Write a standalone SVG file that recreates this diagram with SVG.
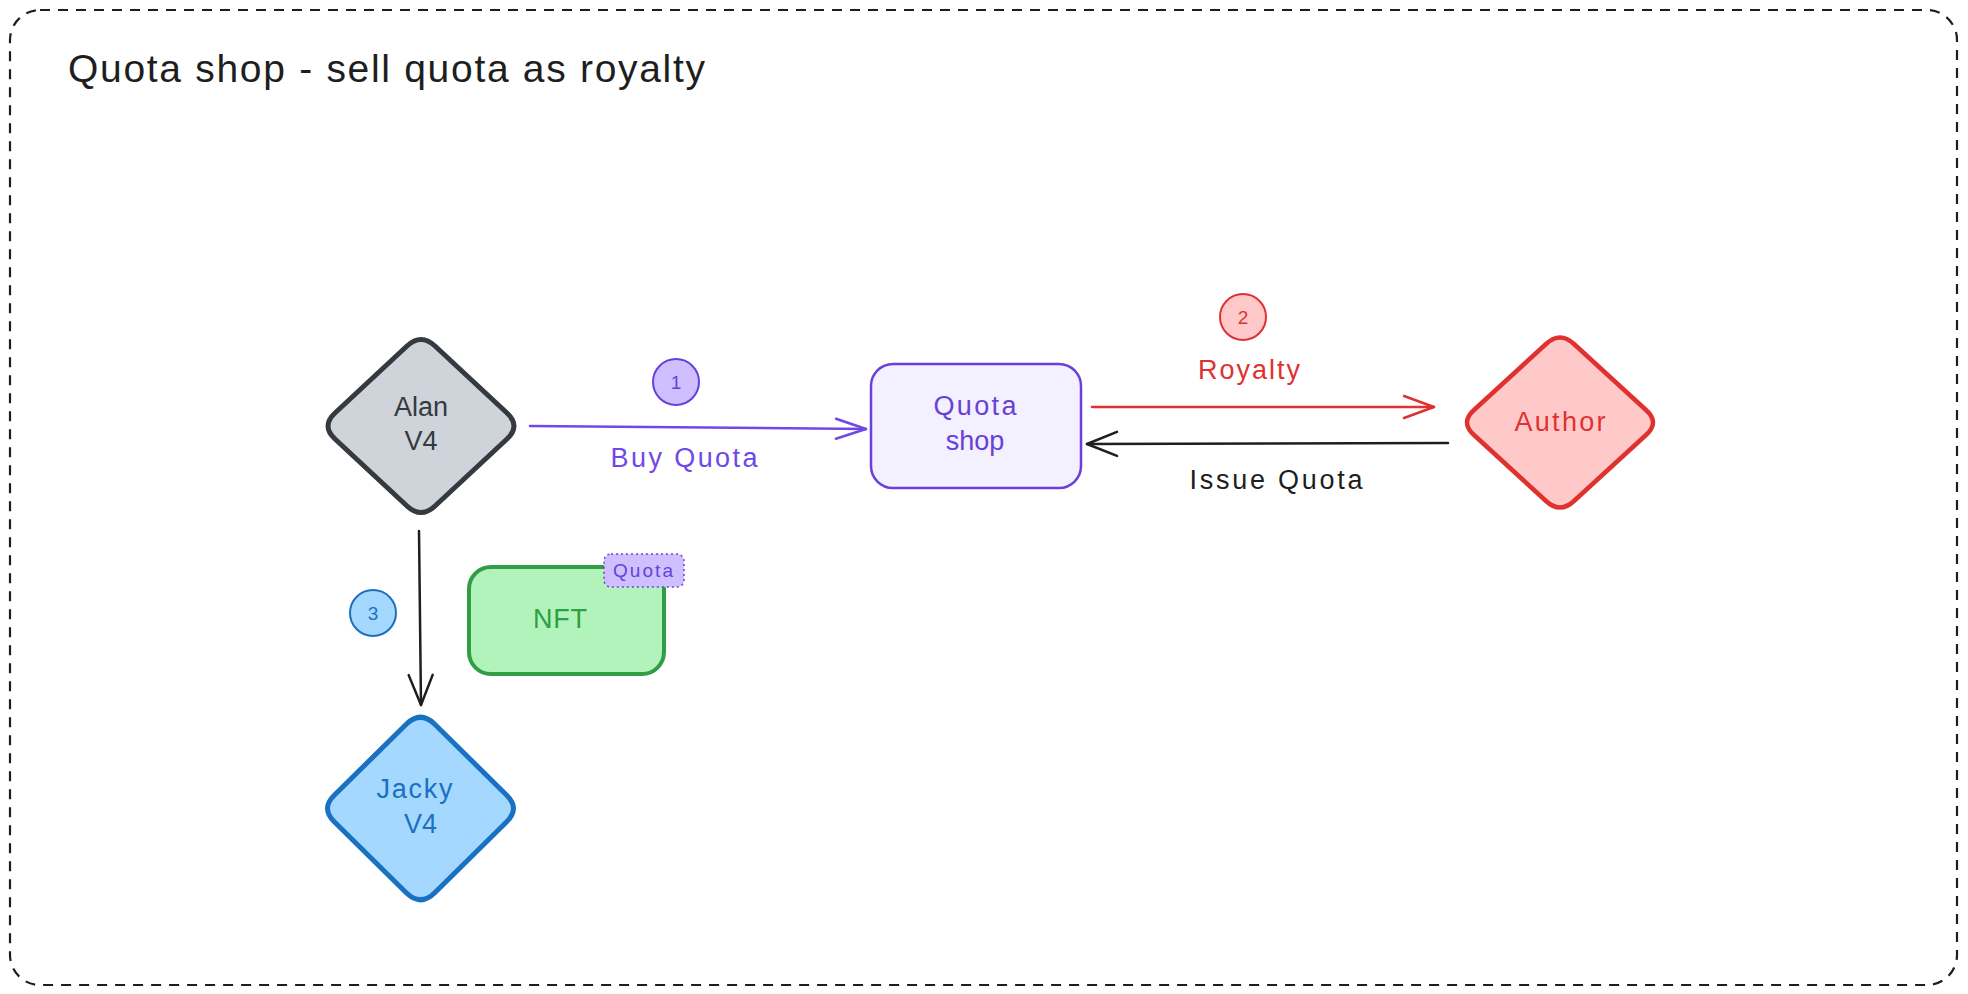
<svg xmlns="http://www.w3.org/2000/svg" width="1968" height="994" viewBox="0 0 1968 994">
<defs>
<style>
.t{font-family:"Liberation Sans","DejaVu Sans",sans-serif;text-anchor:middle}
.lbl{font-size:27px}
.num{font-size:19px}
.ln{fill:none;stroke-width:2.5;stroke-linecap:round}
</style>
<marker id="ah-violet" viewBox="0 0 40 30" markerWidth="40" markerHeight="30" refX="36" refY="15" orient="auto" markerUnits="userSpaceOnUse"><path d="M6,5 L36,15 L6,25" fill="none" stroke="#7048e8" stroke-width="2.5" stroke-linecap="round" stroke-linejoin="round"/></marker>
<marker id="ah-red" viewBox="0 0 40 30" markerWidth="40" markerHeight="30" refX="36" refY="15" orient="auto" markerUnits="userSpaceOnUse"><path d="M6,4 L36,15 L6,26" fill="none" stroke="#e03131" stroke-width="2.5" stroke-linecap="round" stroke-linejoin="round"/></marker>
<marker id="ah-black" viewBox="0 0 40 30" markerWidth="40" markerHeight="30" refX="36" refY="15" orient="auto" markerUnits="userSpaceOnUse"><path d="M6,3 L36,15 L6,27" fill="none" stroke="#1e1e1e" stroke-width="2.5" stroke-linecap="round" stroke-linejoin="round"/></marker>
</defs>
<rect width="1968" height="994" fill="#ffffff"/>
<g id="frame">
<rect x="10" y="10" width="1947" height="975" rx="30" fill="none" stroke="#1e1e1e" stroke-width="2.2" stroke-dasharray="10 8"/>
<text class="t" x="68" y="82" style="text-anchor:start;font-size:39px" fill="#1e1e1e" textLength="637" lengthAdjust="spacing">Quota shop - sell quota as royalty</text>
</g>
<g id="connectors">
<path class="ln" d="M530,426 L866,429" stroke="#7048e8" marker-end="url(#ah-violet)"/>
<path class="ln" d="M1092,407 L1434,407" stroke="#e03131" marker-end="url(#ah-red)"/>
<path class="ln" d="M1448,443 L1087,444" stroke="#1e1e1e" marker-end="url(#ah-black)"/>
<path class="ln" d="M419,531 L421,705" stroke="#1e1e1e" marker-end="url(#ah-black)"/>
<text class="t lbl" x="684" y="467" fill="#7048e8" textLength="147" lengthAdjust="spacing">Buy Quota</text>
<text class="t lbl" x="1249" y="379" fill="#e03131" textLength="102" lengthAdjust="spacing">Royalty</text>
<text class="t lbl" x="1276" y="489" fill="#1e1e1e" textLength="173" lengthAdjust="spacing">Issue Quota</text>
</g>
<g id="step1">
<circle cx="676" cy="382" r="23" fill="#d0bfff" stroke="#6741d9" stroke-width="2"/>
<text class="t num" x="676" y="389" fill="#6741d9">1</text>
</g>
<g id="step2">
<circle cx="1243" cy="317" r="23" fill="#ffc9c9" stroke="#e03131" stroke-width="2"/>
<text class="t num" x="1243" y="324" fill="#e03131">2</text>
</g>
<g id="step3">
<circle cx="373" cy="613" r="23" fill="#a5d8ff" stroke="#1971c2" stroke-width="2"/>
<text class="t num" x="373" y="620" fill="#1971c2">3</text>
</g>
<g id="alan" transform="translate(421,426)">
<path d="M -86,-13 L -14,-80 Q 0,-93 14,-80 L 86,-13 Q 100,0 86,13 L 14,80 Q 0,93 -14,80 L -86,13 Q -100,0 -86,-13 Z" fill="#ced4da" stroke="#343a40" stroke-width="5" stroke-linejoin="round"/>
<text class="t lbl" x="0" y="-10" fill="#343a40">Alan</text>
<text class="t lbl" x="0" y="24" fill="#343a40">V4</text>
</g>
<g id="quota-shop">
<rect x="871" y="364" width="210" height="124" rx="22" fill="#f3f0ff" stroke="#6741d9" stroke-width="2.5"/>
<text class="t lbl" x="975" y="415" fill="#6741d9" textLength="83" lengthAdjust="spacing">Quota</text>
<text class="t lbl" x="975" y="450" fill="#6741d9">shop</text>
</g>
<g id="author" transform="translate(1560,422.5)">
<path d="M -86,-12.5 L -14,-78.5 Q 0,-91.5 14,-78.5 L 86,-12.5 Q 100,0 86,12.5 L 14,78.5 Q 0,91.5 -14,78.5 L -86,12.5 Q -100,0 -86,-12.5 Z" fill="#ffc9c9" stroke="#e03131" stroke-width="4.5" stroke-linejoin="round"/>
<text class="t lbl" x="0" y="8.5" fill="#e03131" textLength="91" lengthAdjust="spacing">Author</text>
</g>
<g id="nft">
<rect x="469" y="567" width="195" height="107" rx="22" fill="#b2f2bb" stroke="#2f9e44" stroke-width="4"/>
<text class="t lbl" x="560" y="628" fill="#2f9e44" textLength="54" lengthAdjust="spacing">NFT</text>
</g>
<g id="quota-tag">
<rect x="604" y="554" width="80" height="33" rx="7" fill="#d0bfff" stroke="#6741d9" stroke-width="1.5" stroke-dasharray="2 3"/>
<text class="t" x="643" y="577" style="font-size:19px" fill="#6741d9" textLength="60" lengthAdjust="spacing">Quota</text>
</g>
<g id="jacky" transform="translate(420.5,808.5)">
<path d="M -86,-13.5 L -14,-84.5 Q 0,-98 14,-84.5 L 86,-13.5 Q 100,0 86,13.5 L 14,84.5 Q 0,98 -14,84.5 L -86,13.5 Q -100,0 -86,-13.5 Z" fill="#a5d8ff" stroke="#1971c2" stroke-width="5" stroke-linejoin="round"/>
<text class="t lbl" x="-6" y="-11" fill="#1971c2" textLength="76" lengthAdjust="spacing">Jacky</text>
<text class="t lbl" x="0" y="24" fill="#1971c2">V4</text>
</g>
</svg>
